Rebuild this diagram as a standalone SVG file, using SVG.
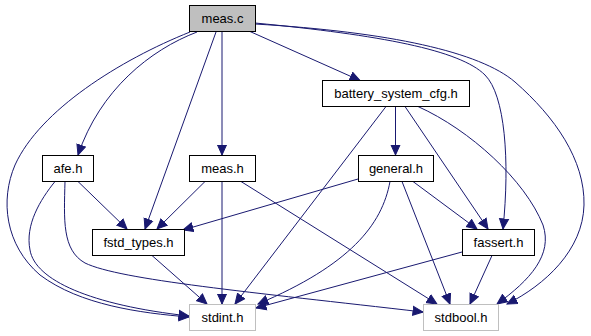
<svg xmlns="http://www.w3.org/2000/svg" width="591" height="336" viewBox="0 0 591 336">
  <style>
    .node rect { fill: #ffffff; stroke: #000000; stroke-width: 1; }
    .node.root rect { fill: #bfbfbf; }
    .node.ext rect { stroke: #bfbfbf; }
    .node text { font-family: "Liberation Sans", Arial, sans-serif; font-size: 13px; fill: #000000; text-anchor: middle; }
    #edges path { fill: none; stroke: #191970; stroke-width: 1; marker-end: url(#arrow); }
  </style>
  <defs>
    <marker id="arrow" markerUnits="userSpaceOnUse" markerWidth="12" markerHeight="12" viewBox="0 -6 11 12" refX="10" refY="0" orient="auto">
      <path d="M0,-4.5 L10,0 L0,4.5 Z" fill="#191970" stroke="#191970" stroke-width="1"/>
    </marker>
  </defs>
  <rect width="591" height="336" fill="#ffffff"/>

  <g id="edges">
    <!-- meas.c -->
    <path d="M250,31.5 L360,80.5"/>
    <path d="M197,32 C150,50 100,90 78,155"/>
    <path d="M216,32 L145,229"/>
    <path d="M222,32 L222,155"/>
    <path d="M190,32 C120,60 40,110 15,165 C0,200 5,245 40,275 C80,305 140,313 189,317"/>
    <path d="M255,23 C380,35 460,50 485,75 C505,95 510,160 503,229"/>
    <path d="M255,24 C390,32 480,52 515,82 C555,117 585,160 584,205 C583,250 545,285 507,304"/>
    <!-- battery_system_cfg.h -->
    <path d="M395.5,106.5 L395.5,155"/>
    <path d="M386,106.5 L235,304"/>
    <path d="M405,106.5 L488,229"/>
    <path d="M418,106.5 C470,130 525,180 543,225 C553,255 530,280 497,304"/>
    <!-- afe.h -->
    <path d="M78,181.5 L127,229"/>
    <path d="M55,181.5 C40,200 25,225 30,250 C35,280 90,305 189,316"/>
    <path d="M65,181.5 C64,220 62,250 85,263 C120,280 250,292 423,312"/>
    <!-- meas.h -->
    <path d="M205,181.5 L157,229"/>
    <path d="M222,181.5 L222,304"/>
    <path d="M241,181.5 L437,304"/>
    <!-- general.h -->
    <path d="M358,179 L183,230"/>
    <path d="M390,181.5 C382,225 350,265 258,304"/>
    <path d="M402,181.5 L450,304"/>
    <path d="M413,181.5 L477,229"/>
    <!-- fstd_types.h -->
    <path d="M152,255.5 L207,304"/>
    <!-- fassert.h -->
    <path d="M462,252 L256,308"/>
    <path d="M492,255.5 L470,304"/>
  </g>

  <g id="node-meas-c" class="node root">
    <rect x="189.5" y="5.5" width="66" height="26"/>
    <text x="222.5" y="23">meas.c</text>
  </g>
  <g id="node-battery-system-cfg-h" class="node">
    <rect x="322.5" y="80.5" width="147" height="26"/>
    <text x="396" y="98">battery_system_cfg.h</text>
  </g>
  <g id="node-afe-h" class="node">
    <rect x="42.5" y="155.5" width="51" height="26"/>
    <text x="68" y="173">afe.h</text>
  </g>
  <g id="node-meas-h" class="node">
    <rect x="189.5" y="155.5" width="66" height="26"/>
    <text x="222.5" y="173">meas.h</text>
  </g>
  <g id="node-general-h" class="node">
    <rect x="358.5" y="155.5" width="75" height="26"/>
    <text x="396" y="173">general.h</text>
  </g>
  <g id="node-fstd-types-h" class="node">
    <rect x="92.5" y="229.5" width="92" height="26"/>
    <text x="138.5" y="247">fstd_types.h</text>
  </g>
  <g id="node-fassert-h" class="node">
    <rect x="462.5" y="229.5" width="72" height="26"/>
    <text x="498.5" y="247">fassert.h</text>
  </g>
  <g id="node-stdint-h" class="node ext">
    <rect x="189.5" y="304.5" width="66" height="26"/>
    <text x="222.5" y="322">stdint.h</text>
  </g>
  <g id="node-stdbool-h" class="node ext">
    <rect x="423.5" y="304.5" width="75" height="26"/>
    <text x="461" y="322">stdbool.h</text>
  </g>
</svg>
